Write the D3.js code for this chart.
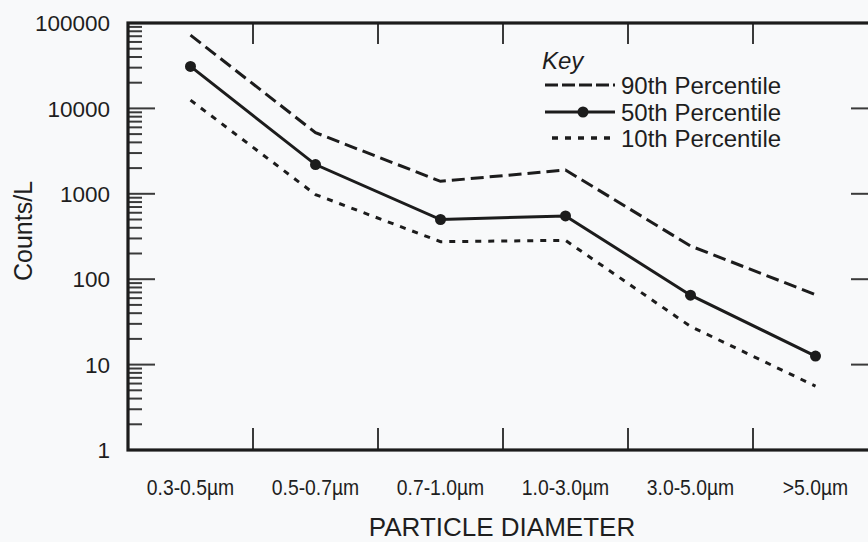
<!DOCTYPE html>
<html>
<head>
<meta charset="utf-8">
<script src="https://cdn.jsdelivr.net/npm/d3@7"></script>
<style>
  body { margin: 0; background: #f8f9fa; }
  svg { display: block; font-family: 'Liberation Sans', Arial, Helvetica, sans-serif; }
  .frame { fill: none; stroke: #1c1c1c; stroke-width: 3.2; }
  .tick-line { stroke: #3a3a3a; stroke-width: 2; }
  .series { fill: none; stroke: #1c1c1c; stroke-width: 3; }
  text { fill: #1e1e1e; }
</style>
</head>
<body>
<div id="chart"></div>
<script>
const categories = ['0.3-0.5µm', '0.5-0.7µm', '0.7-1.0µm', '1.0-3.0µm', '3.0-5.0µm', '>5.0µm']
const p90 = [72000, 5200, 1400, 1900, 245, 66]
const p50 = [31000, 2200, 500, 550, 65, 12.6]
const p10 = [12500, 980, 275, 285, 28, 5.6]
const yTickValues = [1, 10, 100, 1000, 10000, 100000]
const legendLabels = ['90th Percentile', '50th Percentile', '10th Percentile']

let width = 868
let height = 542
// the right edge of the frame sits just outside the picture
let margins = {top: 23, left: 128, right: -10, bottom: 92}

let svg = d3.select('#chart')
  .append('svg')
    .attr('width', width)
    .attr('height', height)

let xStart = margins.left
let xEnd = width - margins.right
let yTop = margins.top
let yBottom = height - margins.bottom

let x = d3.scaleBand()
  .domain(categories)
  .range([xStart, xEnd])
  .padding(0)
let y = d3.scaleLog()
  .domain([1, 100000])
  .range([yBottom, yTop])

let xMid = d => x(d) + x.bandwidth() / 2

// minor ticks 2..9 of every decade
let minorTicks = []
yTickValues.slice(0, -1).forEach(v => {
  for (let k = 2; k < 10; k++) minorTicks.push(v * k)
})

let ticksG = svg.append('g').classed('ticks', true)

ticksG.selectAll('line.minor')
  .data(minorTicks)
  .enter().append('line')
    .attr('class', 'tick-line minor')
    .attr('x1', xStart)
    .attr('x2', xStart + 14)
    .attr('y1', d => y(d))
    .attr('y2', d => y(d))

ticksG.selectAll('line.major-left')
  .data(yTickValues)
  .enter().append('line')
    .attr('class', 'tick-line major-left')
    .attr('x1', xStart)
    .attr('x2', xStart + 27)
    .attr('y1', d => y(d))
    .attr('y2', d => y(d))

ticksG.selectAll('line.major-right')
  .data(yTickValues)
  .enter().append('line')
    .attr('class', 'tick-line major-right')
    .attr('x1', xEnd)
    .attr('x2', xEnd - 27)
    .attr('y1', d => y(d))
    .attr('y2', d => y(d))

// category separators, top and bottom
let separators = categories.slice(1)
ticksG.selectAll('line.sep-bottom')
  .data(separators)
  .enter().append('line')
    .attr('class', 'tick-line sep-bottom')
    .attr('x1', d => x(d))
    .attr('x2', d => x(d))
    .attr('y1', yBottom)
    .attr('y2', yBottom - 22)

ticksG.selectAll('line.sep-top')
  .data(separators)
  .enter().append('line')
    .attr('class', 'tick-line sep-top')
    .attr('x1', d => x(d))
    .attr('x2', d => x(d))
    .attr('y1', yTop)
    .attr('y2', yTop + 21)

svg.append('rect')
  .classed('frame', true)
  .attr('x', xStart)
  .attr('y', yTop)
  .attr('width', xEnd - xStart)
  .attr('height', yBottom - yTop)

// y tick labels
svg.append('g').selectAll('text')
  .data(yTickValues)
  .enter().append('text')
    .attr('x', 110)
    .attr('y', d => y(d))
    .attr('dy', '0.36em')
    .attr('text-anchor', 'end')
    .style('font-size', '22.5px')
    .text(d => d3.format('d')(d))

// x tick labels, slightly condensed like the original lettering
svg.append('g').selectAll('text')
  .data(categories)
  .enter().append('text')
    .attr('transform', d => 'translate(' + xMid(d) + ',495) scale(0.9,1)')
    .attr('text-anchor', 'middle')
    .style('font-size', '21.5px')
    .text(d => d)

svg.append('text')
  .attr('x', 502)
  .attr('y', 536)
  .attr('text-anchor', 'middle')
  .style('font-size', '26px')
  .text('PARTICLE DIAMETER')

svg.append('text')
  .attr('transform', 'translate(32,231) rotate(-90)')
  .attr('text-anchor', 'middle')
  .style('font-size', '25px')
  .text('Counts/L')

// series
let line = d3.line()
  .x((d, i) => xMid(categories[i]))
  .y(d => y(d))

let seriesG = svg.append('g').classed('series-g', true)
seriesG.append('path')
  .datum(p90)
  .classed('series', true)
  .attr('stroke-dasharray', '13,6')
  .attr('d', line)
seriesG.append('path')
  .datum(p10)
  .classed('series', true)
  .attr('stroke-width', 3.5)
  .attr('stroke-dasharray', '6,7')
  .attr('d', line)
seriesG.append('path')
  .datum(p50)
  .classed('series', true)
  .attr('d', line)
seriesG.selectAll('circle')
  .data(p50)
  .enter().append('circle')
    .attr('cx', (d, i) => xMid(categories[i]))
    .attr('cy', d => y(d))
    .attr('r', 5.5)
    .attr('fill', '#1c1c1c')

// legend
let legendG = svg.append('g').classed('legend', true)
  .attr('transform', 'translate(542,0)')
legendG.append('text')
  .attr('x', 0)
  .attr('y', 69)
  .style('font-size', '24px')
  .style('font-style', 'italic')
  .text('Key')

let legendRows = [
  {label: legendLabels[0], dash: '13,4', start: 3, dot: false, width: 3},
  {label: legendLabels[1], dash: null, start: 3, dot: true, width: 3},
  {label: legendLabels[2], dash: '6,7', start: 10, dot: false, width: 3.5}
]
let rowY = [85, 112, 138]

legendRows.forEach((r, i) => {
  let g = legendG.append('g').attr('transform', 'translate(0,' + rowY[i] + ')')
  g.append('line')
    .attr('x1', r.start)
    .attr('x2', 73)
    .attr('stroke', '#1c1c1c')
    .attr('stroke-width', r.width)
    .attr('stroke-dasharray', r.dash)
  if (r.dot) {
    g.append('circle')
      .attr('cx', 41)
      .attr('r', 5.5)
      .attr('fill', '#1c1c1c')
  }
  g.append('text')
    .attr('x', 79)
    .attr('dy', '0.36em')
    .style('font-size', '24px')
    .text(r.label)
})
</script>
</body>
</html>
